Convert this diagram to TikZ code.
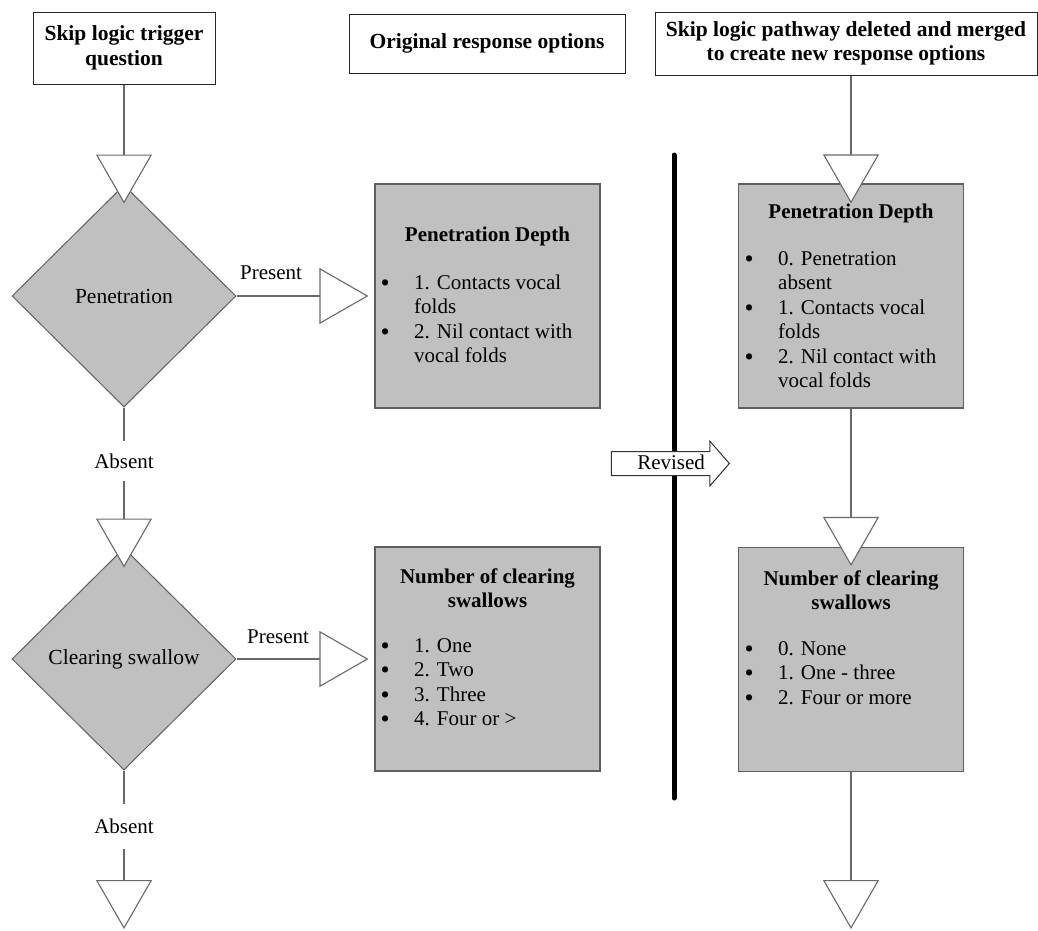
\documentclass[tikz,border=0pt]{standalone}
\usepackage{fontspec}
\setmainfont{Liberation Serif}
\usetikzlibrary{shapes.geometric,shapes.arrows,arrows.meta,calc}
\definecolor{boxgray}{RGB}{192,192,192}
\definecolor{edgegray}{RGB}{95,95,95}
\definecolor{linegray}{RGB}{105,105,105}
\newcommand{\mybul}{\smash{\fontsize{26}{20}\selectfont\raisebox{-2pt}{\textbullet}}}
\newcommand{\mylist}[1]{\begin{tabular}[t]{@{}p{33.5pt}@{}l@{}}#1\end{tabular}}
\begin{document}
\begin{tikzpicture}[x=1pt,y=-1pt,
  every node/.style={font=\fontsize{21}{24.5}\selectfont},
  hdr/.style={draw=black!85, line width=1pt, fill=white, align=center,
    font=\fontsize{21.5}{24.5}\selectfont\bfseries, inner sep=0pt},
  dec/.style={diamond, draw=edgegray, fill=boxgray, line width=1pt, inner sep=0pt,
    minimum width=224pt, minimum height=222pt, font=\fontsize{21.5}{24.5}\selectfont},
  optbox/.style={draw=edgegray, fill=boxgray, line width=1.2pt, inner sep=0pt,
    minimum width=225pt, minimum height=224pt},
  boxtitle/.style={align=center, inner sep=0pt, font=\fontsize{21}{24}\selectfont\bfseries},
  boxlist/.style={anchor=base west, inner sep=0pt},
  conn/.style={draw=linegray, line width=1.1pt},
  tri/.style={-{Triangle[length=49pt,width=56pt,fill=white]}, line join=miter},
  lbl/.style={inner sep=0pt},
  absentlbl/.style={inner sep=0pt, minimum height=#1},
  divider/.style={line width=5pt, line cap=round, draw=black}
]
\useasboundingbox (0,0) rectangle (1038,930);

% headers
\node[hdr, minimum width=182pt, minimum height=72pt] (h1) at (124,48) {Skip logic trigger\\question};
\node[hdr, minimum width=276pt, minimum height=59pt] (h2) at (487,43.5) {Original response options};
\node[hdr, minimum width=382pt, minimum height=63pt] (h3) at (846,43.5) {Skip logic pathway deleted and merged\\to create new response options};

% decisions
\node[dec] (d1) at (124,296) {Penetration};
\node[dec] (d2) at (124,659) {Clearing swallow};

% option boxes
\node[optbox] (o1) at (487.5,296) {};
\node[optbox] (o2) at (487.5,659) {};
\node[optbox] (n1) at (851,296) {};
\node[optbox] (n2) at (851,659.5) {};

% box contents
\node[boxtitle] (o1t) at (487.5,236) {Penetration Depth};
\node[boxlist] (o1l) at (380.5,289) {\mylist{\mybul & 1. Contacts vocal\\ & folds\\ \mybul & 2. Nil contact with\\ & vocal folds}};

\node[boxtitle] (o2t) at (487.5,588) {Number of clearing\\swallows};
\node[boxlist] (o2l) at (380.5,652) {\mylist{\mybul & 1. One\\ \mybul & 2. Two\\ \mybul & 3. Three\\ \mybul & 4. Four or >}};

\node[boxtitle] (n1t) at (851,213) {Penetration Depth};
\node[boxlist] (n1l) at (744.5,265) {\mylist{\mybul & 0. Penetration\\ & absent\\ \mybul & 1. Contacts vocal\\ & folds\\ \mybul & 2. Nil contact with\\ & vocal folds}};

\node[boxtitle] (n2t) at (851,590) {Number of clearing\\swallows};
\node[boxlist] (n2l) at (744.5,655) {\mylist{\mybul & 0. None\\ \mybul & 1. One - three\\ \mybul & 2. Four or more}};

% labels
\node[lbl] (p1) at (271,273) {Present};
\node[lbl] (p2) at (278,637) {Present};
\node[absentlbl=40pt] (a1) at (124,461) {Absent};
\node[absentlbl=45pt] (a2) at (124,826.5) {Absent};

% end points
\coordinate (endL) at (124,929);
\coordinate (endR) at (851,929);

% connectors
\draw[conn,tri] (h1.south) -- ([yshift=-19pt]d1.north);
\draw[conn,tri] (d1.east) -- ([xshift=-6pt]o1.west);
\draw[conn] (d1.south) -- (a1.north);
\draw[conn,tri] (a1.south) -- ([yshift=-20pt]d2.north);
\draw[conn,tri] (d2.east) -- ([xshift=-6pt]o2.west);
\draw[conn] (d2.south) -- (a2.north);
\draw[conn,tri] (a2.south) -- (endL);

\draw[conn,tri] (h3.south -| n1.north) -- ([yshift=-20pt]n1.north);
\draw[conn,tri] (n1.south) -- ([yshift=-19pt]n2.north);
\draw[conn,tri] (n2.south) -- (endR);

% divider and revised arrow
\coordinate (divtop) at (674,155);
\coordinate (divbot) at (674,798);
\draw[divider] (divtop) -- (divbot);
\node[single arrow, draw=black!80, fill=white, line width=1pt,
  single arrow head extend=10.5pt, single arrow tip angle=98,
  minimum height=118pt, inner ysep=5.5pt, text height=12pt, text depth=0pt,
  anchor=tip] (rev) at (730,463.5) {\hspace{12pt}Revised};
\end{tikzpicture}
\end{document}
